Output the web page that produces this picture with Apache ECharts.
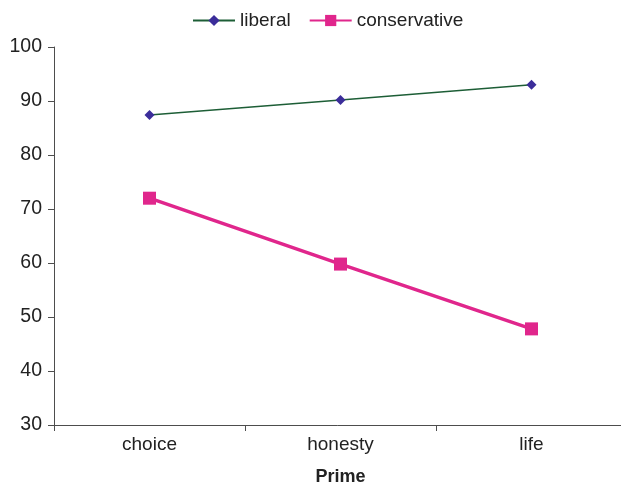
<!DOCTYPE html>
<html>
<head>
<meta charset="utf-8">
<script src="https://cdn.jsdelivr.net/npm/echarts@6/dist/echarts.min.js"></script>
<style>
  html, body { margin: 0; padding: 0; background: #fff; }
  #chart { width: 621px; height: 484px; }
</style>
</head>
<body>
<div id="chart"></div>
<script>
// Prime categories on the x axis
const primes = ['choice', 'honesty', 'life'];
// Mean scores per group
const liberal = [87.4, 90.2, 93.0];
const conservative = [72.0, 59.8, 47.8];
// Y axis range
const yMin = 30, yMax = 100, yStep = 10;

const font = '"Liberation Sans", Arial, sans-serif';
const axisColor = '#4d4d4d';

const chart = echarts.init(document.getElementById('chart'), null, { renderer: 'canvas' });
chart.setOption({
  animation: false,
  backgroundColor: '#ffffff',
  textStyle: { fontFamily: font },
  legend: {
    top: 11,
    left: 192,
    padding: 0,
    itemWidth: 42,
    itemHeight: 14,
    itemGap: 18,
    textStyle: { fontFamily: font, fontSize: 19, color: '#222' },
    data: ['liberal', 'conservative']
  },
  grid: {
    left: 54, right: -6, top: 47, bottom: 59,
    containLabel: false,
    outerBoundsMode: 'none'
  },
  xAxis: {
    type: 'category',
    data: primes,
    boundaryGap: true,
    name: 'Prime',
    nameLocation: 'middle',
    nameGap: 43,
    nameTextStyle: { fontFamily: font, fontSize: 18, fontWeight: 'bold', color: '#222' },
    axisLine: { lineStyle: { color: axisColor, width: 1 } },
    axisTick: { show: true, length: 6, lineStyle: { color: axisColor } },
    axisLabel: { fontFamily: font, fontSize: 19, color: '#222', margin: 10 },
    splitLine: { show: false }
  },
  yAxis: {
    type: 'value',
    min: yMin,
    max: yMax,
    interval: yStep,
    axisLine: { show: true, lineStyle: { color: axisColor, width: 1 } },
    axisTick: { show: true, length: 6, lineStyle: { color: axisColor } },
    axisLabel: { fontFamily: font, fontSize: 19.5, color: '#222', margin: 12 },
    splitLine: { show: false }
  },
  series: [
    {
      name: 'liberal',
      type: 'line',
      data: liberal,
      symbol: 'diamond',
      symbolSize: 10,
      lineStyle: { color: '#1d5e36', width: 1.5 },
      itemStyle: { color: '#3b2d9a', borderWidth: 0 },
      z: 3
    },
    {
      name: 'conservative',
      type: 'line',
      data: conservative,
      symbol: 'rect',
      symbolSize: 13,
      lineStyle: { color: '#e0268c', width: 3.5 },
      itemStyle: { color: '#e0268c', borderWidth: 0 },
      z: 2
    }
  ]
});
</script>
</body>
</html>
